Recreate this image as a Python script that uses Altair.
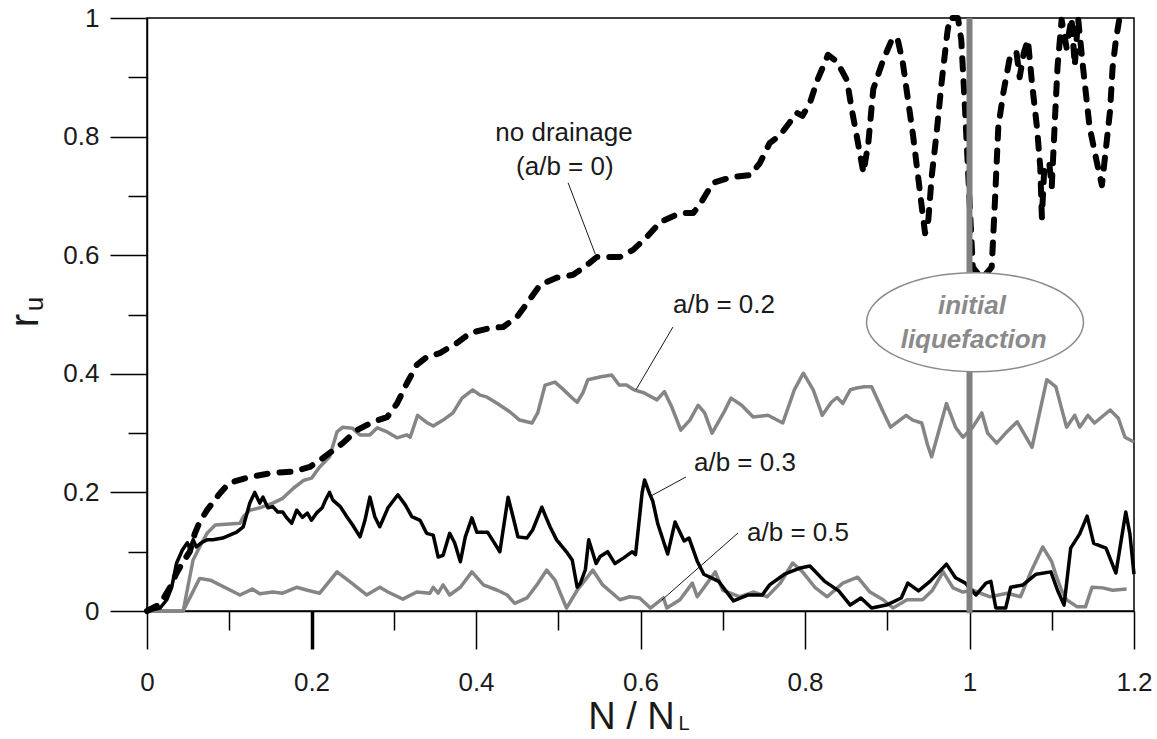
import altair as alt
import pandas as pd

# ---------------- data ----------------
X_TICKS = [0.0, 0.1, 0.2, 0.3, 0.4, 0.5, 0.6, 0.7, 0.8, 0.9, 1.0, 1.1, 1.2]
Y_TICKS = [0.0, 0.1, 0.2, 0.3, 0.4, 0.5, 0.6, 0.7, 0.8, 0.9, 1.0]

# no drainage (a/b = 0), dashed black
s00_x = [0.0, 0.016, 0.028, 0.036, 0.043, 0.052, 0.058, 0.064, 0.073, 0.089, 0.10, 0.125, 0.153, 0.178,
         0.198, 0.214, 0.238, 0.255, 0.275, 0.292, 0.304, 0.316, 0.328, 0.34, 0.356, 0.377, 0.393, 0.417,
         0.433, 0.45, 0.462, 0.478, 0.498, 0.518, 0.532, 0.547, 0.575, 0.591, 0.608, 0.624, 0.648, 0.664,
         0.672, 0.688, 0.712, 0.733, 0.745, 0.757, 0.77, 0.782, 0.79, 0.797, 0.806, 0.815, 0.828, 0.839,
         0.851, 0.857, 0.863, 0.871, 0.877, 0.883, 0.895, 0.907, 0.913, 0.919, 0.924, 0.931, 0.938, 0.942,
         0.946, 0.95, 0.954, 0.96, 0.966, 0.973, 0.976, 0.986, 0.99, 0.994, 1.0, 1.004, 1.015, 1.027,
         1.031, 1.035, 1.041, 1.049, 1.057, 1.061, 1.066, 1.071, 1.076, 1.082, 1.086, 1.088, 1.091, 1.097,
         1.1, 1.104, 1.107, 1.112, 1.118, 1.124, 1.128, 1.132, 1.138, 1.146, 1.156, 1.161, 1.167, 1.171,
         1.174, 1.178, 1.182, 1.19]
s00_y = [0.0, 0.012, 0.04, 0.064, 0.081, 0.10, 0.13, 0.15, 0.17, 0.199, 0.216, 0.226, 0.233, 0.235,
         0.243, 0.258, 0.283, 0.305, 0.319, 0.327, 0.35, 0.384, 0.415, 0.428, 0.435, 0.452, 0.469, 0.477,
         0.479, 0.496, 0.519, 0.55, 0.562, 0.567, 0.58, 0.597, 0.597, 0.609, 0.631, 0.656, 0.671, 0.671,
         0.685, 0.722, 0.732, 0.735, 0.755, 0.789, 0.803, 0.825, 0.84, 0.835, 0.857, 0.895, 0.938, 0.926,
         0.895, 0.845, 0.80, 0.739, 0.789, 0.88, 0.929, 0.968, 0.962, 0.924, 0.874, 0.806, 0.727, 0.681,
         0.637, 0.66, 0.732, 0.806, 0.89, 0.975, 1.0, 1.0, 0.963, 0.862, 0.693, 0.58, 0.56, 0.58,
         0.693, 0.816, 0.873, 0.933, 0.943, 0.9, 0.941, 0.963, 0.89, 0.816, 0.749, 0.664, 0.749, 0.755,
         0.715, 0.833, 0.917, 0.997, 0.95, 1.0, 0.92, 1.0, 0.917, 0.816, 0.749, 0.718, 0.794, 0.845,
         0.917, 0.963, 0.997, 1.0]

# a/b = 0.2, grey
s02_x = [0.0, 0.044, 0.056, 0.064, 0.073, 0.083, 0.113, 0.117, 0.125, 0.137, 0.153, 0.165, 0.178, 0.19,
         0.2, 0.21, 0.222, 0.231, 0.238, 0.25, 0.259, 0.271, 0.28, 0.292, 0.304, 0.316, 0.32, 0.329,
         0.34, 0.348, 0.36, 0.372, 0.383, 0.396, 0.405, 0.413, 0.426, 0.441, 0.453, 0.468, 0.475, 0.484,
         0.496, 0.505, 0.517, 0.523, 0.53, 0.536, 0.552, 0.565, 0.574, 0.583, 0.592, 0.604, 0.62, 0.629,
         0.638, 0.649, 0.66, 0.67, 0.678, 0.687, 0.701, 0.71, 0.723, 0.737, 0.755, 0.773, 0.787, 0.798,
         0.81, 0.821, 0.832, 0.839, 0.846, 0.855, 0.863, 0.872, 0.881, 0.893, 0.904, 0.923, 0.931, 0.942,
         0.949, 0.954, 0.972, 0.983, 0.992, 1.004, 1.015, 1.022, 1.033, 1.044, 1.058, 1.076, 1.094, 1.105,
         1.118, 1.128, 1.134, 1.144, 1.152, 1.171, 1.181, 1.189, 1.2]
s02_y = [0.0, 0.0, 0.086, 0.108, 0.131, 0.145, 0.148, 0.159, 0.17, 0.174, 0.182, 0.19, 0.207, 0.22,
         0.224, 0.243, 0.26, 0.302, 0.31, 0.308, 0.297, 0.297, 0.309, 0.302, 0.292, 0.297, 0.293, 0.33,
         0.318, 0.312, 0.322, 0.334, 0.359, 0.373, 0.364, 0.361, 0.35, 0.336, 0.322, 0.317, 0.334, 0.381,
         0.386, 0.375, 0.359, 0.352, 0.368, 0.39, 0.395, 0.398, 0.381, 0.381, 0.373, 0.368, 0.356, 0.37,
         0.344, 0.305, 0.322, 0.347, 0.334, 0.30, 0.334, 0.359, 0.347, 0.327, 0.33, 0.317, 0.373, 0.401,
         0.373, 0.33, 0.352, 0.36, 0.35, 0.373, 0.376, 0.378, 0.378, 0.342, 0.31, 0.33, 0.322, 0.317,
         0.28, 0.26, 0.35, 0.31, 0.293, 0.31, 0.334, 0.30, 0.283, 0.30, 0.319, 0.276, 0.39, 0.378,
         0.31, 0.33, 0.31, 0.33, 0.317, 0.339, 0.325, 0.293, 0.285]

# a/b = 0.3, solid black
s03_x = [0.0, 0.016, 0.024, 0.030, 0.036, 0.043, 0.049, 0.052, 0.056, 0.06, 0.066, 0.073, 0.08, 0.092,
         0.109, 0.117, 0.125, 0.131, 0.137, 0.141, 0.147, 0.153, 0.159, 0.165, 0.17, 0.176, 0.182, 0.189,
         0.195, 0.2, 0.206, 0.213, 0.217, 0.222, 0.226, 0.235, 0.243, 0.25, 0.259, 0.265, 0.271, 0.277,
         0.283, 0.293, 0.305, 0.314, 0.322, 0.332, 0.34, 0.348, 0.354, 0.36, 0.368, 0.374, 0.381, 0.387,
         0.395, 0.401, 0.407, 0.414, 0.42, 0.429, 0.439, 0.445, 0.451, 0.462, 0.469, 0.48, 0.49, 0.498,
         0.511, 0.517, 0.523, 0.527, 0.533, 0.537, 0.546, 0.551, 0.56, 0.569, 0.58, 0.59, 0.594, 0.602,
         0.605, 0.611, 0.615, 0.621, 0.633, 0.642, 0.653, 0.659, 0.669, 0.677, 0.695, 0.713, 0.731, 0.748,
         0.757, 0.775, 0.793, 0.806, 0.824, 0.841, 0.855, 0.868, 0.881, 0.899, 0.917, 0.925, 0.938, 0.952,
         0.972, 0.983, 0.995, 1.008, 1.02, 1.026, 1.032, 1.044, 1.05, 1.065, 1.081, 1.099, 1.107, 1.115,
         1.123, 1.134, 1.143, 1.151, 1.166, 1.178, 1.19, 1.195, 1.2]
s03_y = [0.0, 0.005, 0.019, 0.040, 0.081, 0.103, 0.115, 0.106, 0.12, 0.108, 0.115, 0.12, 0.12, 0.123,
         0.133, 0.142, 0.182, 0.20, 0.182, 0.192, 0.174, 0.176, 0.167, 0.167, 0.157, 0.148, 0.17, 0.158,
         0.165, 0.153, 0.165, 0.174, 0.187, 0.20, 0.187, 0.176, 0.159, 0.145, 0.125, 0.153, 0.192, 0.159,
         0.142, 0.174, 0.196, 0.179, 0.159, 0.153, 0.131, 0.128, 0.091, 0.094, 0.131, 0.115, 0.083, 0.125,
         0.157, 0.133, 0.133, 0.133, 0.12, 0.10, 0.192, 0.159, 0.125, 0.123, 0.137, 0.175, 0.142, 0.12,
         0.098, 0.086, 0.04, 0.047, 0.07, 0.12, 0.08, 0.092, 0.10, 0.08, 0.09, 0.10, 0.095, 0.20,
         0.221, 0.198, 0.185, 0.147, 0.096, 0.15, 0.118, 0.123, 0.084, 0.062, 0.05, 0.017, 0.027, 0.027,
         0.044, 0.062, 0.072, 0.076, 0.05, 0.034, 0.01, 0.022, 0.005, 0.01, 0.022, 0.047, 0.034, 0.05,
         0.079, 0.056, 0.047, 0.027, 0.047, 0.05, 0.005, 0.005, 0.04, 0.044, 0.062, 0.066, 0.035, 0.01,
         0.106, 0.13, 0.16, 0.114, 0.106, 0.064, 0.167, 0.13, 0.062]

# a/b = 0.5, grey
s05_x = [0.0, 0.044, 0.064, 0.077, 0.113, 0.128, 0.137, 0.153, 0.165, 0.182, 0.195, 0.21, 0.231, 0.247,
         0.267, 0.283, 0.293, 0.311, 0.328, 0.344, 0.348, 0.354, 0.36, 0.368, 0.381, 0.395, 0.409, 0.426,
         0.438, 0.447, 0.462, 0.474, 0.486, 0.496, 0.51, 0.523, 0.542, 0.554, 0.575, 0.587, 0.599, 0.612,
         0.628, 0.632, 0.648, 0.663, 0.669, 0.691, 0.70, 0.721, 0.737, 0.754, 0.77, 0.785, 0.797, 0.812,
         0.827, 0.846, 0.864, 0.879, 0.895, 0.907, 0.924, 0.943, 0.955, 0.968, 0.98, 0.992, 1.004, 1.025,
         1.046, 1.062, 1.074, 1.089, 1.10, 1.106, 1.112, 1.118, 1.131, 1.141, 1.149, 1.162, 1.174, 1.191]
s05_y = [0.0, 0.0, 0.055, 0.052, 0.027, 0.037, 0.029, 0.032, 0.030, 0.040, 0.035, 0.030, 0.066, 0.049,
         0.027, 0.040, 0.032, 0.020, 0.032, 0.030, 0.040, 0.030, 0.044, 0.027, 0.040, 0.066, 0.044, 0.035,
         0.027, 0.013, 0.022, 0.044, 0.069, 0.052, 0.005, 0.035, 0.069, 0.044, 0.019, 0.024, 0.022, 0.005,
         0.022, 0.005, 0.019, 0.047, 0.024, 0.066, 0.035, 0.024, 0.032, 0.024, 0.047, 0.081, 0.066, 0.040,
         0.024, 0.047, 0.057, 0.032, 0.019, 0.005, 0.019, 0.019, 0.035, 0.066, 0.039, 0.032, 0.035, 0.024,
         0.030, 0.024, 0.064, 0.108, 0.083, 0.057, 0.035, 0.019, 0.007, 0.007, 0.040, 0.039, 0.035, 0.037]

# annotations
ann_text = ["no drainage", "(a/b = 0)", "a/b = 0.2", "a/b = 0.3", "a/b = 0.5"]
ann_x = [0.507, 0.508, 0.7015, 0.727, 0.7915]
ann_y = [0.806, 0.749, 0.516, 0.2496, 0.1315]

lead_x = [0.512, 0.6395, 0.6553, 0.7185]
lead_y = [0.722, 0.479, 0.226, 0.1315]
lead_x2 = [0.545, 0.5945, 0.6128, 0.626]
lead_y2 = [0.602, 0.373, 0.194, 0.0185]

liq_text = ["initial", "liquefaction"]
liq_x = [1.003, 1.005]
liq_y = [0.514, 0.457]
ell_x = [1.0067]
ell_y = [0.487]

N_L = 1.0

# ---------------- chart ----------------
FONT = "Liberation Sans"
GREY = "#858585"
INK = "#1a1a1a"

xs = alt.Scale(domain=[0, 1.2], nice=False, zero=False)
ys = alt.Scale(domain=[0, 1], nice=False, zero=False)

major = "round(datum.value * 10) % 2 == 0"

x_axis = alt.Axis(
    values=X_TICKS, grid=False,
    labelExpr=f"{major} ? format(datum.value, '~g') : ''",
    labelFont=FONT, labelFontSize=26, labelColor=INK, labelPadding=20,
    labelOverlap=False, labelFlush=False, labelBound=False,
    tickSize={"condition": {"test": major, "value": 38}, "value": 19},
    tickWidth={"condition": {"test": "abs(datum.value - 0.2) < 0.001", "value": 3.5}, "value": 1.5},
    tickColor="black", domainColor="black", domainWidth=1.5,
    title="N / N", titleFont=FONT, titleFontSize=38, titleFontWeight="normal", titleColor=INK,
    titleX=484, titleY=117, titleAlign="center", titleBaseline="alphabetic",
)
y_axis = alt.Axis(
    values=Y_TICKS, grid=False,
    labelExpr=f"{major} ? format(datum.value, '~g') : ''",
    labelFont=FONT, labelFontSize=26, labelColor=INK, labelPadding=11,
    labelOverlap=False, labelFlush=False, labelBound=False,
    tickSize={"condition": {"test": major, "value": 37}, "value": 19},
    tickWidth=1.5, tickColor="black", domainColor="black", domainWidth=1.5,
    title="r", titleFont=FONT, titleFontSize=40, titleFontWeight="normal", titleColor=INK,
    titleAngle=270, titleX=-110, titleY=302, titleAlign="center", titleBaseline="alphabetic",
)


def frame(xv, yv):
    return pd.DataFrame({"x": xv, "y": yv})


base_x = alt.X("x:Q", scale=xs, axis=x_axis)
base_y = alt.Y("y:Q", scale=ys, axis=y_axis)

l02 = alt.Chart(frame(s02_x, s02_y)).mark_line(color=GREY, strokeWidth=3.5, strokeJoin="round").encode(
    x=base_x, y=base_y)
l05 = alt.Chart(frame(s05_x, s05_y)).mark_line(color=GREY, strokeWidth=3.5, strokeJoin="round").encode(
    x="x:Q", y="y:Q")
l03 = alt.Chart(frame(s03_x, s03_y)).mark_line(color="black", strokeWidth=3.5, strokeJoin="round").encode(
    x="x:Q", y="y:Q")
l00 = alt.Chart(frame(s00_x, s00_y)).mark_line(
    color="black", strokeWidth=6, strokeDash=[11, 12], strokeCap="round", strokeJoin="round"
).encode(x="x:Q", y="y:Q")

vline = alt.Chart(pd.DataFrame({"x": [N_L], "y": [-0.004], "y2": [1.0]})).mark_rule(
    color="#808080", strokeWidth=6).encode(x="x:Q", y="y:Q", y2="y2:Q")

k = 0.5523
ry = 0.456
ell_path = (f"M-1,0 C-1,{-k*ry:.4f} {-k:.4f},{-ry} 0,{-ry} C{k:.4f},{-ry} 1,{-k*ry:.4f} 1,0 "
            f"C1,{k*ry:.4f} {k:.4f},{ry} 0,{ry} C{-k:.4f},{ry} -1,{k*ry:.4f} -1,0 Z")
ellipse = alt.Chart(pd.DataFrame({"x": ell_x, "y": ell_y})).mark_point(
    shape=ell_path, size=217 ** 2, filled=True, fill="white", stroke="#8a8a8a",
    strokeWidth=1.5, opacity=1, fillOpacity=1, strokeOpacity=1
).encode(x="x:Q", y="y:Q")

liq = alt.Chart(pd.DataFrame({"x": liq_x, "y": liq_y, "t": liq_text})).mark_text(
    font=FONT, fontSize=26, fontStyle="italic", fontWeight="bold", color="#8a8a8a",
    align="center", baseline="middle"
).encode(x="x:Q", y="y:Q", text="t:N")

leaders = alt.Chart(pd.DataFrame({"x": lead_x, "y": lead_y, "x2": lead_x2, "y2": lead_y2})).mark_rule(
    color=INK, strokeWidth=1).encode(x="x:Q", y="y:Q", x2="x2:Q", y2="y2:Q")

labels = alt.Chart(pd.DataFrame({"x": ann_x, "y": ann_y, "t": ann_text})).mark_text(
    font=FONT, fontSize=26, color=INK, align="center", baseline="middle"
).encode(x="x:Q", y="y:Q", text="t:N")

# subscripts of the axis titles
sub_x = alt.Chart(pd.DataFrame({"x": [0.653], "y": [-0.2015], "t": ["L"]})).mark_text(
    font=FONT, fontSize=20, color=INK, align="center", baseline="alphabetic"
).encode(x="x:Q", y="y:Q", text="t:N")
sub_y = alt.Chart(pd.DataFrame({"x": [-0.1264], "y": [0.5177], "t": ["u"]})).mark_text(
    font=FONT, fontSize=26, color=INK, align="center", baseline="alphabetic", angle=270
).encode(x="x:Q", y="y:Q", text="t:N")

chart = alt.layer(
    l02, l05, l03, l00, vline, ellipse, liq, leaders, labels, sub_x, sub_y
).properties(
    width=987, height=593,
    autosize=alt.AutoSizeParams(type="none"),
    padding={"left": 147, "top": 18, "right": 23, "bottom": 128},
    background="white",
).configure_view(stroke="black", strokeWidth=1.5)

chart.save("out.html", embed_options={"renderer": "svg", "actions": False})
